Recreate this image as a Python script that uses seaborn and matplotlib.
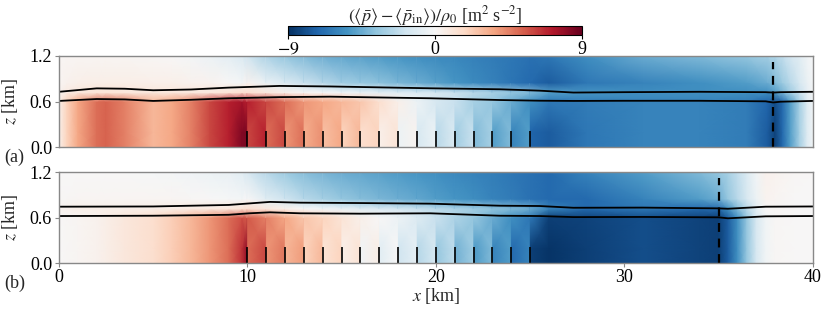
import numpy as np
import matplotlib
matplotlib.use("Agg")
import matplotlib.pyplot as plt
import seaborn as sns

# ---- data ------------------------------------------------------------
turbine_x = [10, 11, 12, 13, 14, 15, 16, 17, 18, 19, 20, 21, 22, 23, 24, 25]
turbine_top = 0.22
# ground row is used at the first two levels, then ABL top, inversion, above, model top
z_levels = [0.0, 0.2, 0.6, 0.72, 0.85, 1.2]

upstream_x = [0, 0.4, 1, 2, 2.5, 3.5, 5, 6, 7, 8, 9, 9.7]

# panel (a)
up_ground_a = [0.5, 2.0, 3.5, 5.0, 5.3, 4.5, 3.0, 3.5, 4.5, 6.0, 7.0, 8.3]
up_abl_a = [0.5, 2.0, 3.5, 5.0, 5.3, 4.5, 3.0, 3.5, 4.5, 6.0, 7.0, 7.5]
up_inv_a = [0.3, 0.8, 1.0, 1.2, 1.2, 1.1, 1.0, 1.0, 1.0, 1.0, 1.2, 1.5]
up_near_a = [0.2, 0.4, 0.5, 0.6, 0.6, 0.6, 0.5, 0.5, 0.4, 0.3, 0.0, -0.2]
up_top_a = [0.2, 0.2, 0.2, 0.2, 0.2, 0.2, 0.1, 0.0, -0.2, -0.5, -0.9, -1.3]

pre_a = [8.5, 7.0, 6.0, 5.0, 4.2, 3.5, 3.0, 2.0, 1.2, 0.3, -0.5, -1.3, -2.0, -3.0, -4.0, -5.0]
post_a = [6.0, 5.0, 4.0, 3.3, 2.7, 2.0, 1.5, 0.5, -0.5, -1.5, -2.5, -3.2, -4.0, -5.0, -6.0, -7.2]
farm_abl_a = [7.0, 6.0, 5.0, 4.0, 3.5, 3.0, 2.5, 1.5, 0.5, -0.5, -1.5, -2.0, -3.0, -3.5, -4.5, -5.5]
farm_inv_a = [1.5, 1.0, 0.5, 0.2, 0.0, -0.3, -0.5, -0.8, -1.0, -1.3, -1.5, -2.0, -2.5, -3.0, -3.5, -4.0]
farm_near_a = [0.3, -0.6, -1.3, -2.0, -2.6, -3.1, -3.4, -3.7, -4.1, -4.5, -4.9, -5.3, -5.7, -6.1, -6.6, -7.0]
farm_top_a = [-1.8, -2.8, -3.5, -4.0, -4.4, -4.7, -4.9, -5.1, -5.3, -5.5, -5.7, -5.9, -6.1, -6.3, -6.5, -6.7]

downstream_x_a = [26, 28, 31, 34, 36.5, 37.6, 38.0, 38.4, 38.8, 39.3, 39.7, 40]
down_ground_a = [-7.5, -6.5, -6.0, -6.0, -6.3, -7.5, -8.3, -7.0, -5.0, -3.0, -1.2, -0.3]
down_abl_a = [-6.5, -6.3, -6.0, -6.0, -6.3, -7.2, -8.0, -7.0, -5.0, -3.0, -1.2, -0.3]
down_inv_a = [-5.0, -5.3, -5.5, -5.5, -5.5, -5.5, -5.0, -4.2, -3.2, -2.0, -0.9, -0.2]
down_near_a = [-7.5, -6.5, -6.0, -5.5, -5.0, -4.5, -4.0, -3.3, -2.5, -1.5, -0.7, -0.2]
down_top_a = [-6.5, -5.5, -4.5, -4.0, -3.5, -3.0, -2.7, -2.2, -1.6, -1.0, -0.4, -0.1]

# panel (b)
up_ground_b = [0.0, 0.1, 0.2, 0.4, 0.6, 1.0, 1.5, 2.2, 3.0, 4.0, 5.0, 6.5]
up_abl_b = [0.0, 0.1, 0.2, 0.4, 0.6, 1.0, 1.5, 2.2, 3.0, 4.0, 5.0, 5.8]
up_inv_b = [0.3, 0.4, 0.5, 0.5, 0.5, 0.5, 0.6, 0.7, 0.8, 0.9, 1.0, 1.3]
up_near_b = [0.1, 0.1, 0.2, 0.2, 0.2, 0.2, 0.2, 0.2, 0.1, 0.0, -0.1, -0.2]
up_top_b = [0.0, 0.0, 0.0, 0.0, 0.0, 0.0, -0.1, -0.2, -0.3, -0.5, -0.7, -1.0]

pre_b = [8.0, 6.0, 4.8, 3.8, 3.0, 2.0, 1.3, 0.7, 0.0, -0.8, -1.5, -2.3, -3.2, -4.0, -5.0, -6.0]
post_b = [5.0, 4.0, 3.0, 2.0, 1.2, 0.5, -0.3, -1.0, -1.8, -2.6, -3.5, -4.3, -5.2, -6.0, -7.0, -8.5]
farm_abl_b = [5.5, 4.5, 3.5, 2.5, 2.0, 1.2, 0.5, 0.0, -0.5, -1.2, -2.0, -2.8, -3.5, -4.5, -5.5, -6.5]
farm_inv_b = [1.5, 1.0, 0.5, 0.0, -0.3, -0.6, -1.0, -1.3, -1.6, -2.0, -2.4, -2.8, -3.2, -3.6, -4.0, -4.5]
farm_near_b = [0.0, -1.0, -1.8, -2.5, -3.0, -3.5, -3.8, -4.1, -4.4, -4.7, -5.0, -5.3, -5.6, -6.0, -6.3, -6.7]
farm_top_b = [-1.5, -2.5, -3.3, -3.8, -4.2, -4.5, -4.7, -4.9, -5.1, -5.3, -5.5, -5.8, -6.0, -6.2, -6.5, -6.7]

downstream_x_b = [26, 28, 31, 34, 35.0, 35.5, 36, 36.5, 37, 37.5, 38, 39, 40]
down_ground_b = [-8.8, -8.5, -8.0, -8.3, -8.5, -7.5, -5.5, -3.5, -1.5, -0.3, 0.1, 0.0, 0.0]
down_abl_b = [-8.5, -8.3, -8.0, -8.3, -8.5, -7.5, -5.5, -3.5, -1.5, -0.3, 0.1, 0.0, 0.0]
down_inv_b = [-6.0, -7.0, -6.5, -7.0, -7.0, -5.5, -4.0, -2.5, -1.0, 0.0, 0.1, 0.0, 0.0]
down_near_b = [-7.0, -7.0, -6.0, -5.0, -4.5, -3.5, -2.5, -1.5, -0.5, 0.3, 0.2, 0.0, 0.0]
down_top_b = [-7.0, -6.0, -5.0, -4.0, -3.5, -3.0, -2.2, -1.3, -0.3, 0.4, 0.3, 0.1, 0.0]

# interfaces (lower/upper edge of inversion layer)
iface_x_a = [0, 2, 3.5, 5, 7, 9, 11.7, 14.4, 19.7, 23.4, 25.5, 27.3, 30, 34, 37.5, 37.9, 38.3, 40]
upper_a = [0.73, 0.775, 0.77, 0.75, 0.76, 0.785, 0.807, 0.80, 0.776, 0.763, 0.745, 0.72, 0.725, 0.73, 0.725, 0.72, 0.725, 0.73]
lower_a = [0.61, 0.635, 0.63, 0.61, 0.625, 0.645, 0.66, 0.666, 0.645, 0.622, 0.613, 0.61, 0.612, 0.612, 0.605, 0.59, 0.60, 0.61]
iface_x_b = [0, 5, 9, 10.1, 11.2, 12.8, 16, 19.7, 23.4, 25.5, 27.3, 31, 35.0, 35.5, 37.5, 40]
upper_b = [0.747, 0.75, 0.77, 0.79, 0.81, 0.80, 0.795, 0.787, 0.76, 0.756, 0.733, 0.735, 0.725, 0.72, 0.747, 0.75]
lower_b = [0.624, 0.628, 0.64, 0.66, 0.673, 0.66, 0.655, 0.66, 0.628, 0.624, 0.61, 0.612, 0.607, 0.594, 0.62, 0.624]

front_x = {"a": 37.9, "b": 35.0}
front_top = 1.12


def build_field(up, farm_pre, farm_post, farm_rows, down_x, down):
    # x nodes: upstream, a pair on both sides of each turbine, downstream
    pair_x = np.repeat(turbine_x, 2) + np.tile([-0.02, 0.02], len(turbine_x))
    xs = np.concatenate([upstream_x, pair_x, down_x])
    ground = np.concatenate([up[0], np.ravel(np.column_stack([farm_pre, farm_post])), down[0]])
    rows = [ground, ground]
    for k, fr in enumerate(farm_rows):
        rows.append(np.concatenate([up[k + 1], np.repeat(fr, 2), down[k + 1]]))
    X, Z = np.meshgrid(xs, z_levels)
    return X, Z, np.array(rows)


fields = {
    "a": build_field(
        [up_ground_a, up_abl_a, up_inv_a, up_near_a, up_top_a], pre_a, post_a,
        [farm_abl_a, farm_inv_a, farm_near_a, farm_top_a], downstream_x_a,
        [down_ground_a, down_abl_a, down_inv_a, down_near_a, down_top_a]),
    "b": build_field(
        [up_ground_b, up_abl_b, up_inv_b, up_near_b, up_top_b], pre_b, post_b,
        [farm_abl_b, farm_inv_b, farm_near_b, farm_top_b], downstream_x_b,
        [down_ground_b, down_abl_b, down_inv_b, down_near_b, down_top_b]),
}
ifaces = {"a": (iface_x_a, upper_a, lower_a), "b": (iface_x_b, upper_b, lower_b)}

# ---- style ------------------------------------------------------------
sns.set_style("ticks")
plt.rcParams["font.family"] = ["Liberation Serif", "DejaVu Serif"]
plt.rcParams["mathtext.fontset"] = "stix"
plt.rcParams["font.size"] = 13
plt.rcParams["axes.edgecolor"] = "#888888"
plt.rcParams["xtick.color"] = "#888888"
plt.rcParams["ytick.color"] = "#888888"
plt.rcParams["xtick.labelcolor"] = "black"
plt.rcParams["ytick.labelcolor"] = "black"

fig = plt.figure(figsize=(8.31, 3.11), dpi=100)
ax_a = fig.add_axes([0.071, 0.526, 0.907, 0.294])
ax_b = fig.add_axes([0.071, 0.153, 0.907, 0.293])
cax = fig.add_axes([0.3466, 0.8875, 0.3538, 0.029])

for key, ax in (("a", ax_a), ("b", ax_b)):
    X, Z, C = fields[key]
    mesh = ax.pcolormesh(X, Z, C, shading="gouraud", cmap="RdBu_r", vmin=-9, vmax=9, rasterized=True)
    xi, up, lo = ifaces[key]
    sns.lineplot(x=xi, y=up, ax=ax, color="black", lw=1.3, sort=False, estimator=None)
    sns.lineplot(x=xi, y=lo, ax=ax, color="black", lw=1.3, sort=False, estimator=None)
    ax.vlines(turbine_x, 0, turbine_top, color="black", lw=1.2)
    ax.plot([front_x[key], front_x[key]], [0, front_top], color="black", lw=1.6, ls=(0, (4, 3)))
    ax.set_xlim(0, 40)
    ax.set_ylim(0, 1.2)
    ax.set_yticks([0, 0.6, 1.2])
    ax.set_yticklabels(["0.0", "0.6", "1.2"])
    ax.set_ylabel(r"$z$ [km]")
    ax.yaxis.set_label_coords(-0.052, 0.5)
    ax.tick_params(length=3, width=0.8, pad=2)
    for s in ax.spines.values():
        s.set_linewidth(1.0)

ax_a.set_xticks([])
ax_b.set_xticks([0, 10, 20, 30, 40])
ax_b.tick_params(axis="x", pad=1)
ax_b.set_xlabel(r"$x$ [km]")
ax_b.xaxis.set_label_coords(0.5, -0.245)
ax_b.xaxis.label.set_verticalalignment("top")

fig.text(0.005, 0.495, "(a)", va="center", ha="left")
fig.text(0.005, 0.09, "(b)", va="center", ha="left")

cb = fig.colorbar(mesh, cax=cax, orientation="horizontal", ticks=[-9, 0, 9])
cb.ax.xaxis.set_ticks_position("bottom")
cb.ax.xaxis.set_label_position("top")
cb.set_label(r"$(\langle\bar{p}\rangle - \langle\bar{p}_{\mathrm{in}}\rangle)/\rho_0$ [m$^2$ s$^{-2}$]", labelpad=3)
cb.ax.tick_params(length=3, width=0.8, pad=1, color="black")
cb.outline.set_edgecolor("black")
cb.outline.set_linewidth(0.8)
cb.ax.set_xticklabels([r"$-9$", "0", "9"])

fig.savefig("out.png", dpi=100)
